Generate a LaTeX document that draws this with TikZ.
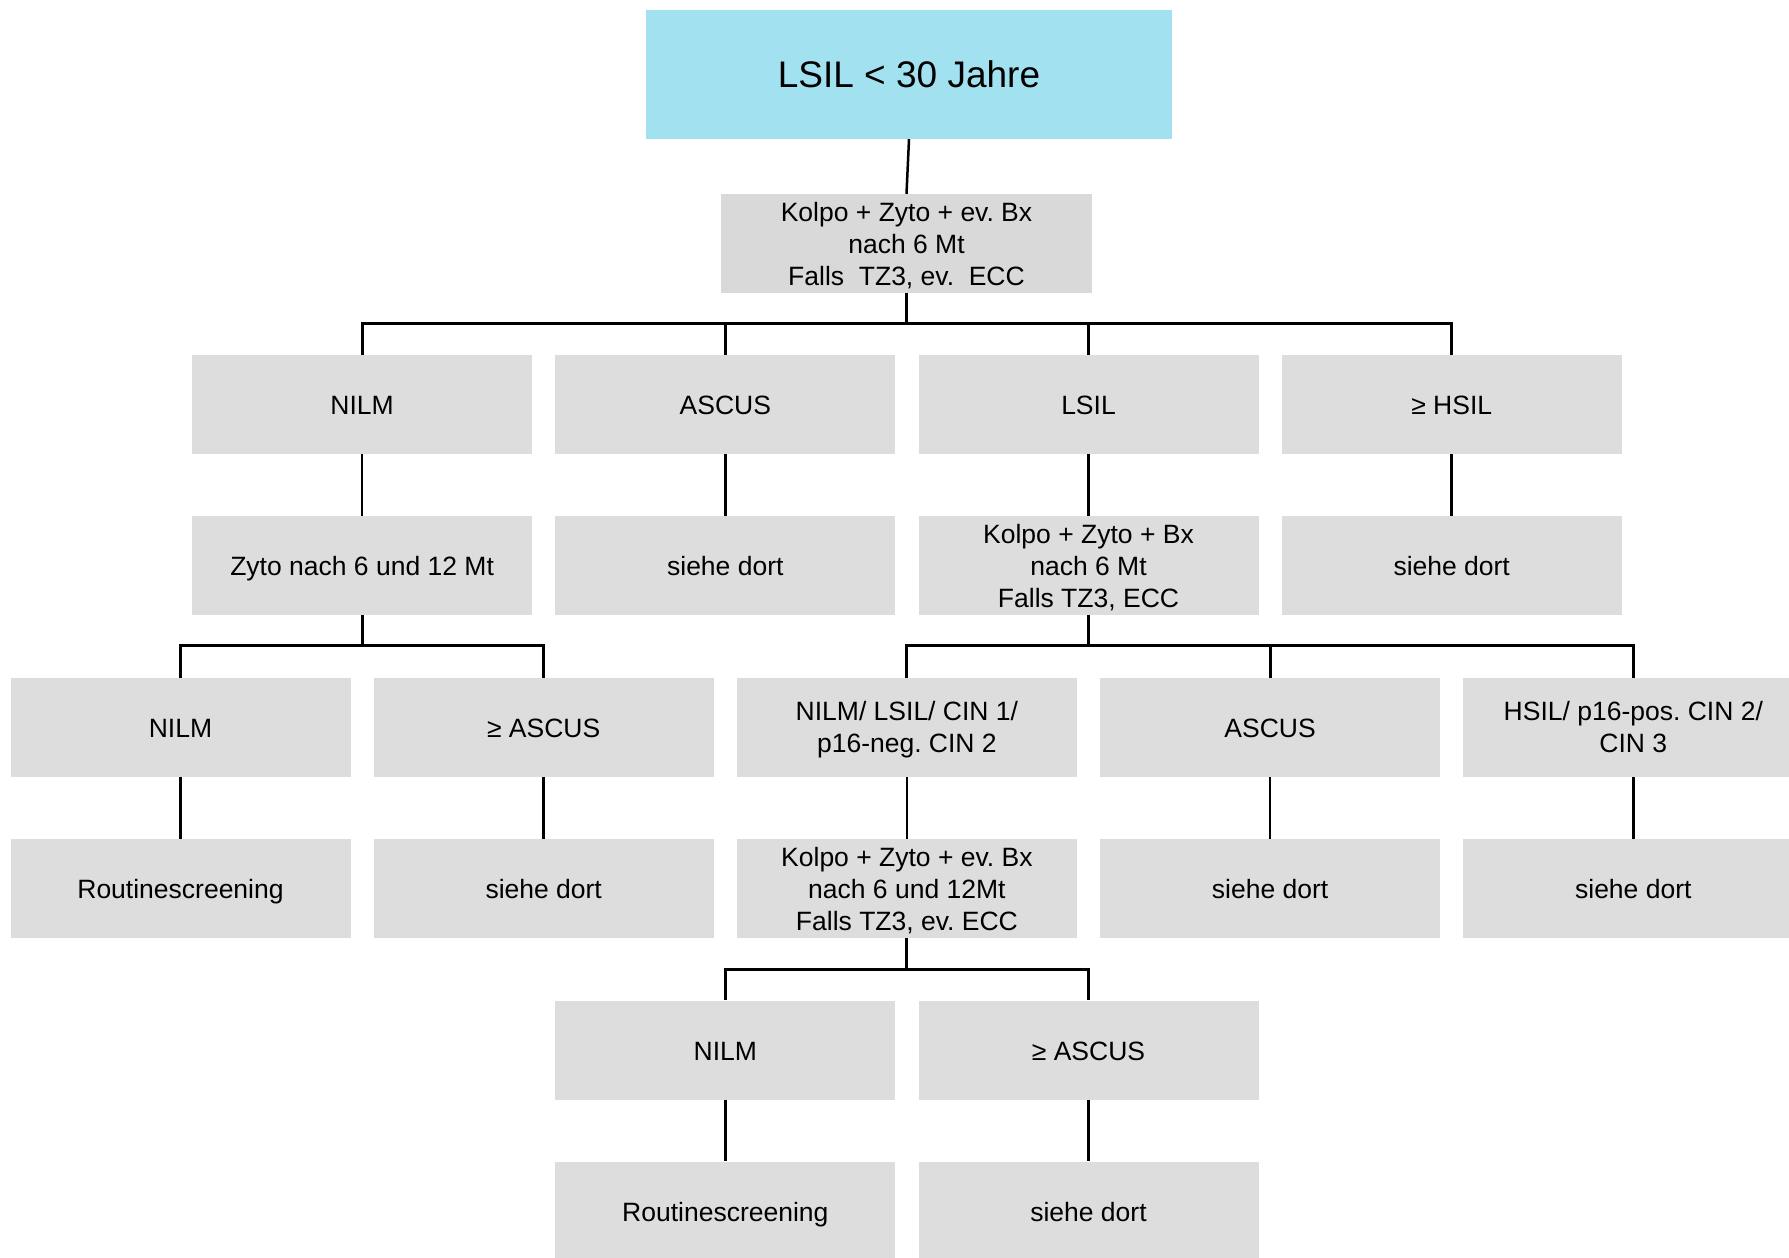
\documentclass[tikz,border=0pt]{standalone}
\usepackage{fontspec}
\setmainfont{Liberation Sans}
\usepackage{tikz}
\definecolor{titleblue}{RGB}{161,225,240}
\definecolor{boxgray}{RGB}{221,221,221}
\definecolor{kolpogray}{RGB}{217,217,217}
\frenchspacing

\tikzset{
  graybox/.style={fill=boxgray, inner sep=0pt, minimum width=340pt, minimum height=99pt,
    align=center, font=\fontsize{26.5}{32}\selectfont},
  stepbox/.style={graybox, text height=25pt, text depth=5pt},
  pairbox/.style={graybox, text height=57pt, text depth=7pt},
  triplebox/.style={graybox, text height=90pt, text depth=7pt},
  titlebox/.style={fill=titleblue, inner sep=0pt, minimum width=526pt, minimum height=129pt,
    font=\fontsize{37}{44}\selectfont, text height=30.5pt, text depth=4pt},
  link/.style={draw=black, line width=2.5pt},
  buslink/.style={draw=black, line width=3pt},
}

\begin{document}
\begin{tikzpicture}[x=1pt, y=-1pt]
\useasboundingbox (0,0) rectangle (1789,1258);
% top
\node[titlebox] (title) at (909,74.5) {LSIL < 30 Jahre};
\node[triplebox, fill=kolpogray, minimum width=371pt] (kolpoA) at (906.5,243.5) {Kolpo + Zyto + ev. Bx\\nach 6 Mt\\Falls\ \ TZ3, ev.\ \ ECC};
% row 1
\node[stepbox] (nilmA) at (362.1,404.5) {NILM};
\node[stepbox] (ascusA) at (725.3,404.5) {ASCUS};
\node[stepbox] (lsilA) at (1088.5,404.5) {LSIL};
\node[stepbox] (hsilA) at (1451.7,404.5) {≥ HSIL};
% row 2
\node[stepbox] (zytoA) at (362.1,565.5) {Zyto nach 6 und 12 Mt};
\node[stepbox] (sieheA) at (725.3,565.5) {siehe dort};
\node[triplebox] (kolpoB) at (1088.5,565.5) {Kolpo + Zyto + Bx\\nach 6 Mt\\Falls TZ3, ECC};
\node[stepbox] (sieheB) at (1451.7,565.5) {siehe dort};
% row 3
\node[stepbox] (nilmB) at (180.5,727.5) {NILM};
\node[stepbox] (ascusB) at (543.7,727.5) {≥ ASCUS};
\node[pairbox] (nilmC) at (906.9,727.5) {NILM/ LSIL/ CIN 1/\\p16-neg. CIN 2};
\node[stepbox] (ascusC) at (1270.1,727.5) {ASCUS};
\node[pairbox] (hsilC) at (1633.3,727.5) {HSIL/ p16-pos. CIN 2/\\CIN 3};
% row 4
\node[stepbox] (routineB) at (180.5,888.5) {Routinescreening};
\node[stepbox] (sieheC) at (543.7,888.5) {siehe dort};
\node[triplebox] (kolpoC) at (906.9,888.5) {Kolpo + Zyto + ev. Bx\\nach 6 und 12Mt\\Falls TZ3, ev. ECC};
\node[stepbox] (sieheD) at (1270.1,888.5) {siehe dort};
\node[stepbox] (sieheE) at (1633.3,888.5) {siehe dort};
% row 5
\node[stepbox] (nilmD) at (725.3,1050) {NILM};
\node[stepbox] (ascusD) at (1088.5,1050) {≥ ASCUS};
% row 6
\node[stepbox] (routineD) at (725.3,1211) {Routinescreening};
\node[stepbox] (sieheF) at (1088.5,1211) {siehe dort};

% bus levels
\coordinate (busA) at (0,323);
\coordinate (busB) at (0,645.5);
\coordinate (busC) at (0,969.5);

\draw[link] (title.south) -- (kolpoA.north);
\draw[buslink] (kolpoA.south) -- (kolpoA.south |- busA) -| (nilmA.north);
\draw[buslink] (kolpoA.south |- busA) -| (ascusA.north);
\draw[buslink] (kolpoA.south |- busA) -| (lsilA.north);
\draw[buslink] (kolpoA.south |- busA) -| (hsilA.north);

\draw[link] (nilmA.south) -- (zytoA.north);
\draw[link] (ascusA.south) -- (sieheA.north);
\draw[link] (lsilA.south) -- (kolpoB.north);
\draw[link] (hsilA.south) -- (sieheB.north);

\draw[buslink] (zytoA.south) -- (zytoA.south |- busB) -| (nilmB.north);
\draw[buslink] (zytoA.south |- busB) -| (ascusB.north);
\draw[buslink] (kolpoB.south) -- (kolpoB.south |- busB) -| (nilmC.north);
\draw[buslink] (kolpoB.south |- busB) -| (ascusC.north);
\draw[buslink] (kolpoB.south |- busB) -| (hsilC.north);

\draw[link] (nilmB.south) -- (routineB.north);
\draw[link] (ascusB.south) -- (sieheC.north);
\draw[link] (nilmC.south) -- (kolpoC.north);
\draw[link] (ascusC.south) -- (sieheD.north);
\draw[link] (hsilC.south) -- (sieheE.north);

\draw[buslink] (kolpoC.south) -- (kolpoC.south |- busC) -| (nilmD.north);
\draw[buslink] (kolpoC.south |- busC) -| (ascusD.north);

\draw[link] (nilmD.south) -- (routineD.north);
\draw[link] (ascusD.south) -- (sieheF.north);
\end{tikzpicture}
\end{document}
